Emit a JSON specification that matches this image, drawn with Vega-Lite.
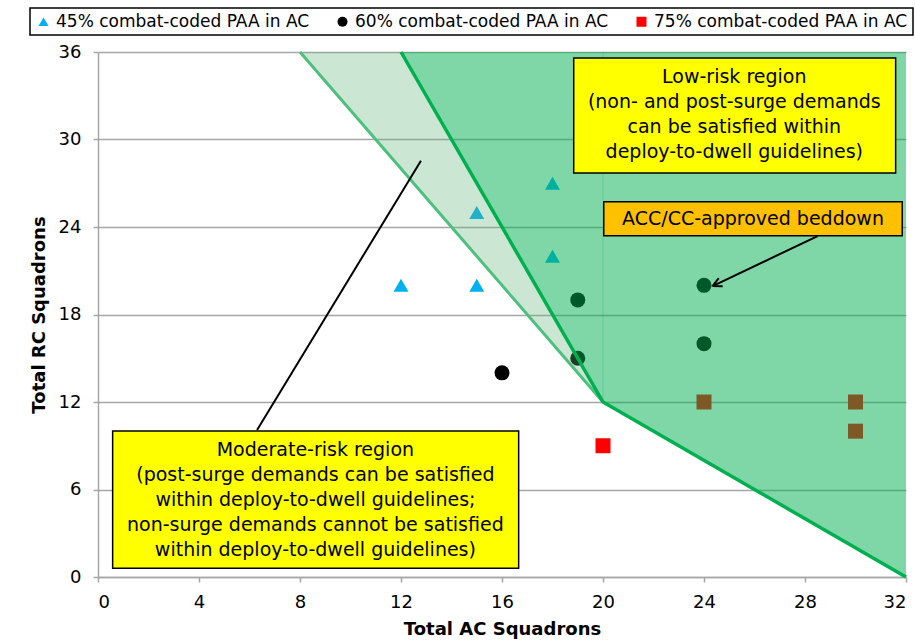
{
  "$schema": "https://vega.github.io/schema/vega-lite/v6.json",
  "width": 808,
  "height": 525,
  "autosize": {"type": "none"},
  "padding": {"left": 98, "top": 52, "right": 9, "bottom": 67},
  "config": {
    "font": "DejaVu Sans",
    "view": {"stroke": null},
    "axis": {
      "labelFont": "DejaVu Sans",
      "labelFontSize": 18,
      "labelColor": "#000000",
      "titleFont": "DejaVu Sans",
      "titleFontSize": 18,
      "titleFontWeight": "bold",
      "titleColor": "#000000",
      "domainColor": "#a6a6a6",
      "domainWidth": 1.5,
      "tickColor": "#a6a6a6",
      "tickWidth": 1.5,
      "tickSize": 5,
      "gridColor": "#a6a6a6",
      "gridWidth": 1.5
    },
    "legend": {
      "orient": "none",
      "legendX": -68,
      "legendY": -44,
      "direction": "horizontal",
      "padding": 5,
      "strokeColor": "#000000",
      "strokeWidth": 1.5,
      "labelFont": "DejaVu Sans",
      "labelFontSize": 17,
      "labelColor": "#000000",
      "labelLimit": 400,
      "labelOffset": 4,
      "symbolSize": 100,
      "symbolStrokeWidth": 0,
      "columnPadding": 24
    }
  },
  "encoding": {
    "x": {
      "field": "x",
      "type": "quantitative",
      "scale": {"domain": [0, 32], "nice": false, "zero": false},
      "axis": {"title": "Total AC Squadrons", "values": [0, 4, 8, 12, 16, 20, 24, 28, 32], "grid": false, "labelPadding": 11, "titlePadding": 9}
    },
    "y": {
      "field": "y",
      "type": "quantitative",
      "scale": {"domain": [0, 36], "nice": false, "zero": false},
      "axis": {"title": "Total RC Squadrons", "values": [0, 6, 12, 18, 24, 30, 36], "grid": true, "labelPadding": 12, "titlePadding": 10}
    }
  },
  "layer": [
    {
      "data": {
        "values": [
          {"x": 12, "y": 20, "s": "45% combat-coded PAA in AC"},
          {"x": 15, "y": 20, "s": "45% combat-coded PAA in AC"},
          {"x": 15, "y": 25, "s": "45% combat-coded PAA in AC"},
          {"x": 18, "y": 27, "s": "45% combat-coded PAA in AC"},
          {"x": 18, "y": 22, "s": "45% combat-coded PAA in AC"},
          {"x": 16, "y": 14, "s": "60% combat-coded PAA in AC"},
          {"x": 19, "y": 19, "s": "60% combat-coded PAA in AC"},
          {"x": 19, "y": 15, "s": "60% combat-coded PAA in AC"},
          {"x": 24, "y": 20, "s": "60% combat-coded PAA in AC"},
          {"x": 24, "y": 16, "s": "60% combat-coded PAA in AC"},
          {"x": 20, "y": 9, "s": "75% combat-coded PAA in AC"},
          {"x": 24, "y": 12, "s": "75% combat-coded PAA in AC"},
          {"x": 30, "y": 12, "s": "75% combat-coded PAA in AC"},
          {"x": 30, "y": 10, "s": "75% combat-coded PAA in AC"}
        ]
      },
      "mark": {"type": "point", "filled": true, "opacity": 1, "size": 225, "strokeWidth": 0},
      "encoding": {
        "color": {
          "field": "s",
          "type": "nominal",
          "scale": {"domain": ["45% combat-coded PAA in AC", "60% combat-coded PAA in AC", "75% combat-coded PAA in AC"], "range": ["#00B0F0", "#000000", "#FF0000"]},
          "legend": {"title": null}
        },
        "shape": {
          "field": "s",
          "type": "nominal",
          "scale": {"domain": ["45% combat-coded PAA in AC", "60% combat-coded PAA in AC", "75% combat-coded PAA in AC"], "range": ["triangle-up", "circle", "square"]},
          "legend": {"title": null}
        }
      }
    },
    {
      "data": {"values": [{"y": 36, "x": 8, "x2": 12}, {"y": 12, "x": 20, "x2": 20}]},
      "mark": {"type": "area", "orient": "horizontal", "color": "#62b478", "opacity": 0.33},
      "encoding": {"x2": {"field": "x2"}}
    },
    {
      "data": {"values": [{"x": 12, "y": 36, "y2": 36}, {"x": 20, "y": 12, "y2": 36}, {"x": 32, "y": 0, "y2": 36}]},
      "mark": {"type": "area", "orient": "vertical", "color": "#00B050", "opacity": 0.5},
      "encoding": {"y2": {"field": "y2"}}
    },
    {
      "data": {"values": [{"x": 20, "y": 12, "y2": 36}]},
      "mark": {"type": "rule", "color": "#00B050", "opacity": 0.25, "strokeWidth": 1},
      "encoding": {"y2": {"field": "y2"}}
    },
    {
      "data": {"values": [{"x": 8, "y": 36}, {"x": 20, "y": 12}]},
      "mark": {"type": "line", "color": "#4dbf7e", "strokeWidth": 3},
      "encoding": {}
    },
    {
      "data": {"values": [{"x": 12, "y": 36}, {"x": 20, "y": 12}, {"x": 32, "y": 0}]},
      "mark": {"type": "line", "color": "#00B050", "strokeWidth": 3.5},
      "encoding": {}
    },
    {
      "data": {"values": [
        {"x": 18.84, "x2": 31.59, "y": 35.59, "y2": 27.70},
        {"x": 0.58, "x2": 16.66, "y": 10.01, "y2": 0.60}
      ]},
      "mark": {"type": "rect", "fill": "#FFFF00", "stroke": "#000000", "strokeWidth": 1.5},
      "encoding": {"x2": {"field": "x2"}, "y2": {"field": "y2"}}
    },
    {
      "data": {"values": [{"x": 20.03, "x2": 31.85, "y": 25.74, "y2": 23.40}]},
      "mark": {"type": "rect", "fill": "#FFC000", "stroke": "#000000", "strokeWidth": 1.5},
      "encoding": {"x2": {"field": "x2"}, "y2": {"field": "y2"}}
    },
    {
      "data": {"values": [
        {"x": 25.2, "y": 34.29, "t": "Low-risk region\n(non- and post-surge demands\ncan be satisfied within\ndeploy-to-dwell guidelines)"},
        {"x": 25.94, "y": 24.57, "t": "ACC/CC-approved beddown"},
        {"x": 8.61, "y": 8.71, "t": "Moderate-risk region\n(post-surge demands can be satisfied\nwithin deploy-to-dwell guidelines;\nnon-surge demands cannot be satisfied\nwithin deploy-to-dwell guidelines)"}
      ]},
      "mark": {"type": "text", "fontSize": 19, "lineHeight": 25, "lineBreak": "\n", "align": "center", "baseline": "middle", "color": "#000000", "font": "DejaVu Sans"},
      "encoding": {"text": {"field": "t"}}
    },
    {
      "data": {"values": [
        {"x": 6.30, "y": 10.08, "x2": 12.79, "y2": 28.55},
        {"x": 28.50, "y": 23.38, "x2": 24.34, "y2": 19.95}
      ]},
      "mark": {"type": "rule", "color": "#000000", "strokeWidth": 2},
      "encoding": {"x2": {"field": "x2"}, "y2": {"field": "y2"}}
    },
    {
      "data": {"values": [{"x": 24.34, "y": 19.95}]},
      "mark": {"type": "point", "shape": "M0,0L1.5,-0.75M0,0L1.5,0.75", "filled": false, "color": "#000000", "strokeWidth": 2, "size": 144, "angle": -25.5, "opacity": 1}
    }
  ]
}
